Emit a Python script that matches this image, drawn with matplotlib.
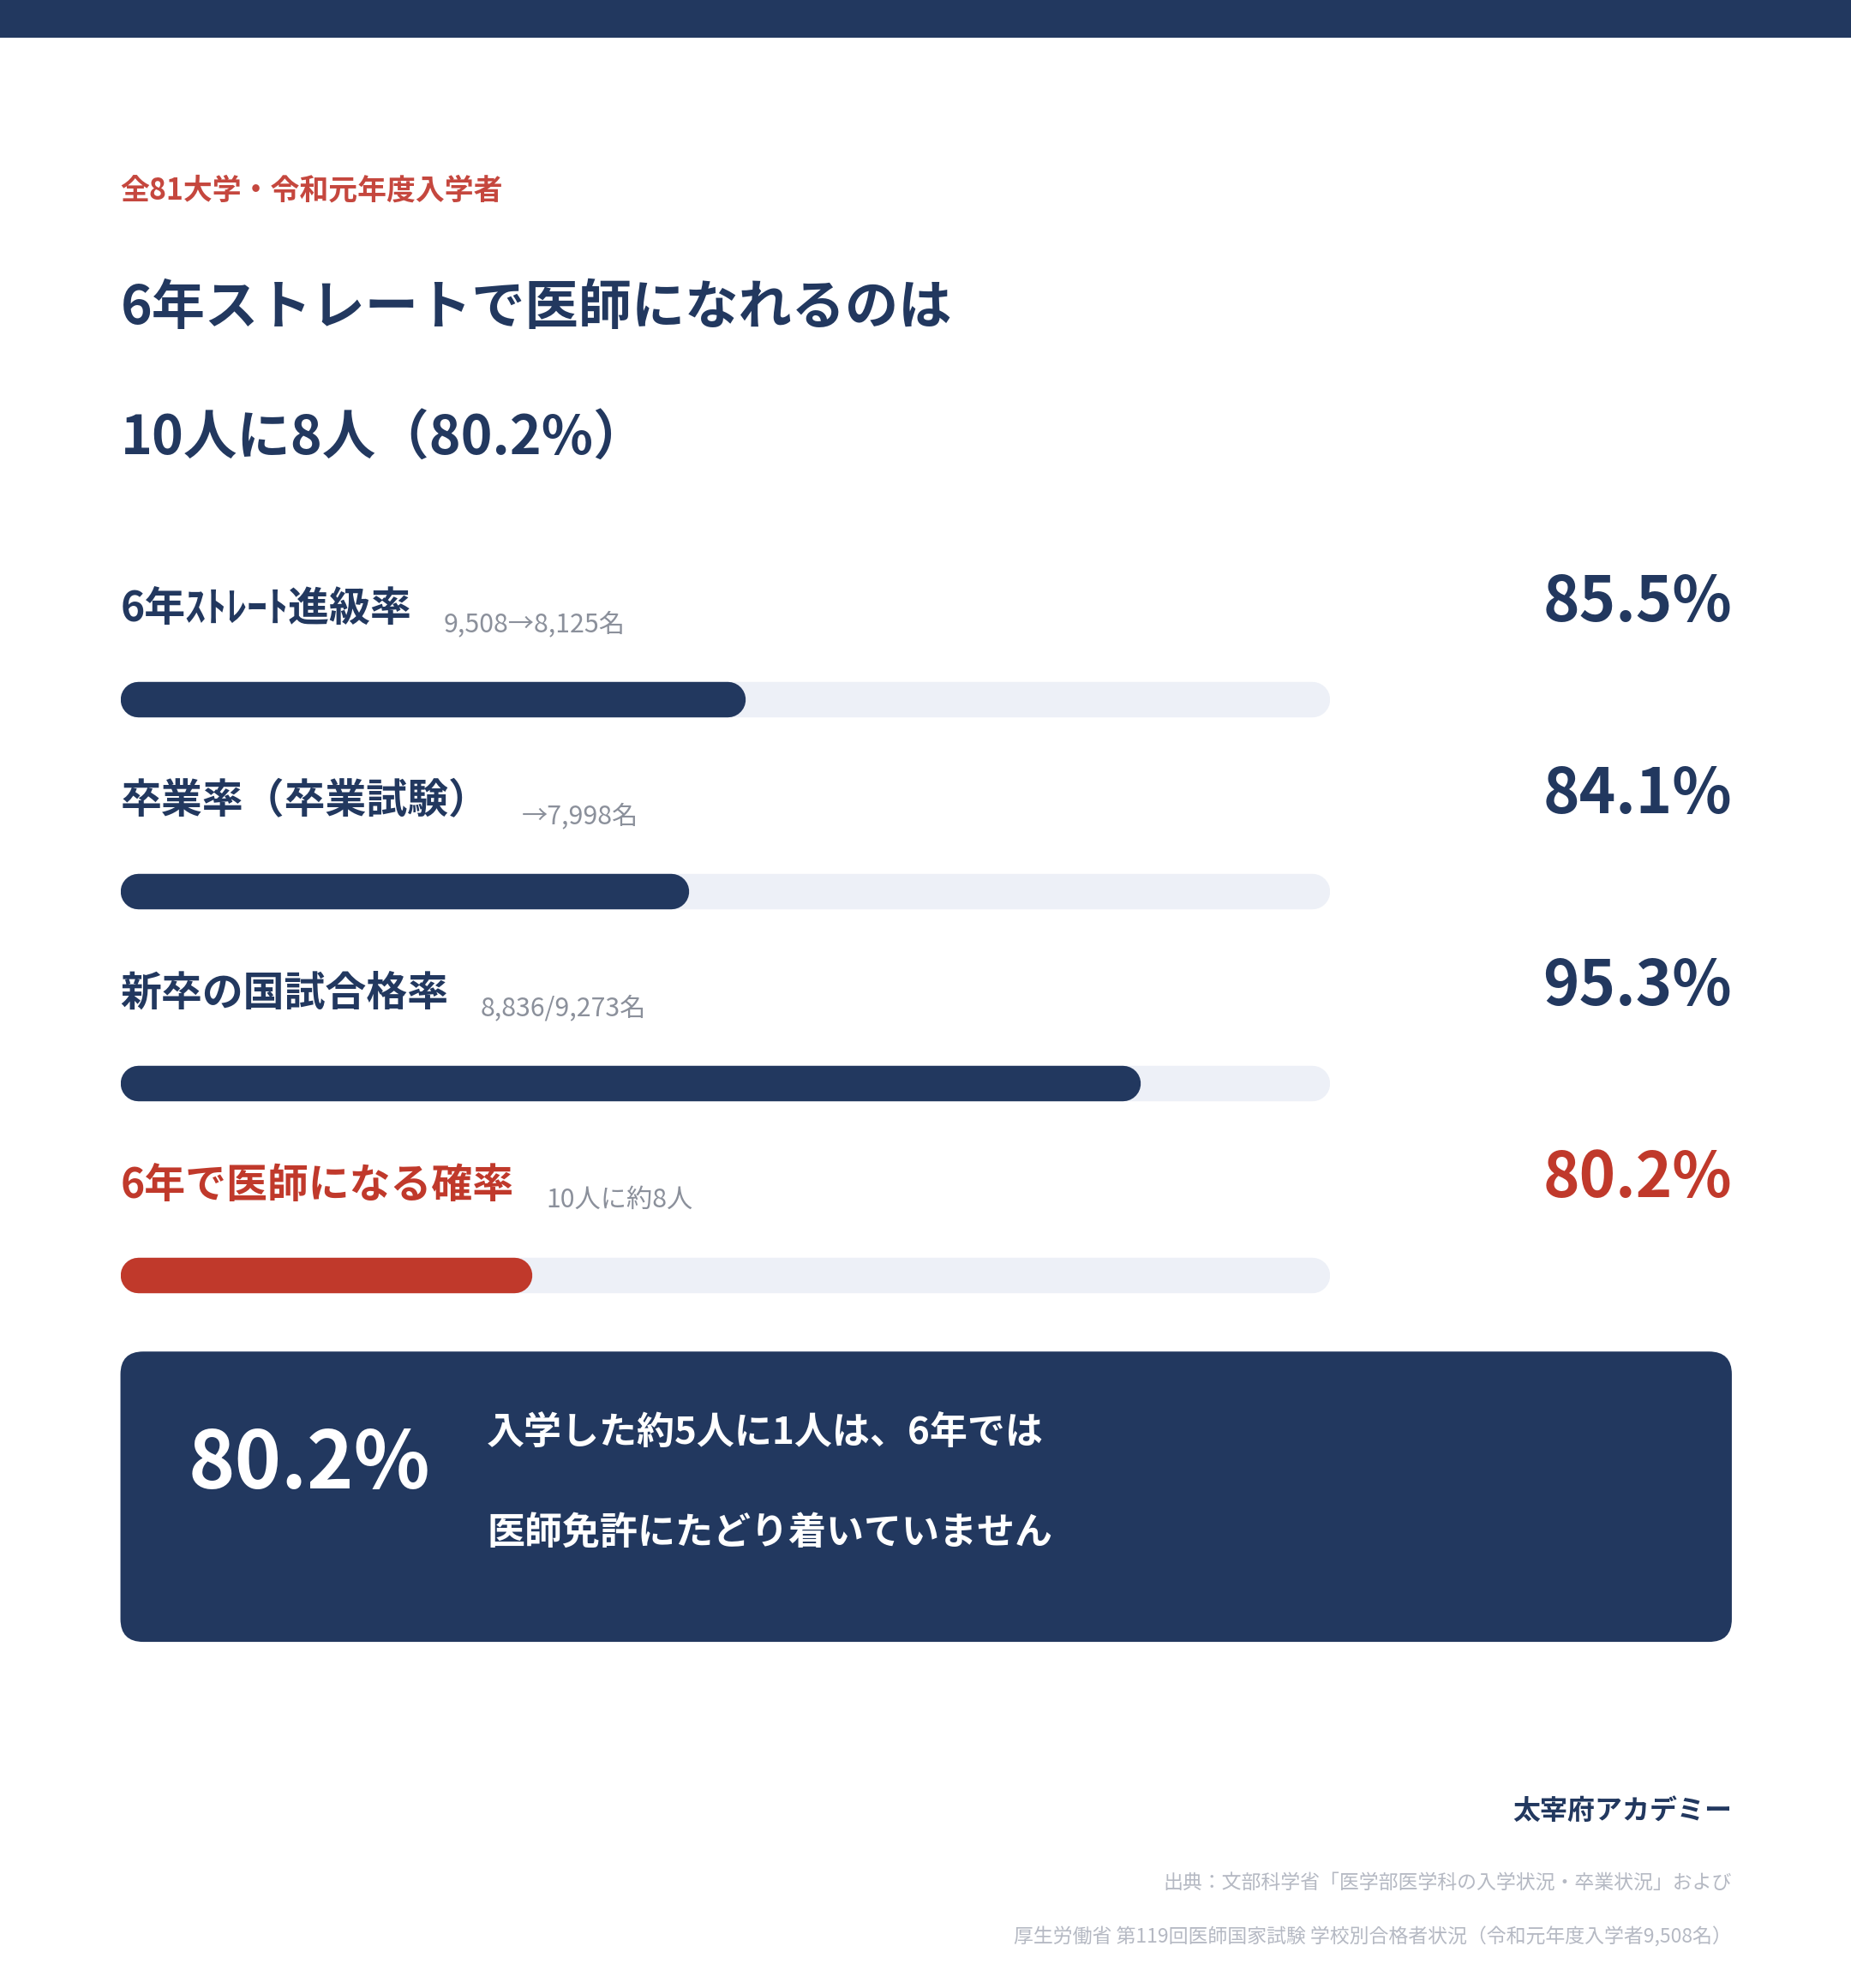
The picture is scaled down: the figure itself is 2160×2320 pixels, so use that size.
import matplotlib.pyplot as plt
from matplotlib.patches import FancyBboxPatch, Rectangle

plt.rcParams['font.family'] = ['Noto Sans CJK JP', 'DejaVu Sans']

# Data
labels = ['6年ｽﾄﾚｰﾄ進級率', '卒業率（卒業試験）', '新卒の国試合格率', '6年で医師になる確率']
notes = ['9,508→8,125名', '→7,998名', '8,836/9,273名', '10人に約8人']
rates = [85.5, 84.1, 95.3, 80.2]
highlight = [False, False, False, True]
axis_min, axis_max = 70, 100

NAVY = '#22385f'
RED = '#c0392b'
RED_SOFT = '#c5473e'
TRACK = '#edf0f7'
GRAY = '#8b909b'
LIGHT_GRAY = '#b5b9c3'

# layout units: the reference drawn at 1460 x 1568
W, H = 1460, 1568
fig = plt.figure(figsize=(21.6, 23.2), dpi=100)
fig.patch.set_facecolor('white')

canvas = fig.add_axes([0, 0, 1, 1])
canvas.set_xlim(0, W)
canvas.set_ylim(H, 0)
canvas.axis('off')

# top band
canvas.add_patch(Rectangle((0, 0), W, 30, color=NAVY, lw=0))

# header
canvas.text(95, 150, '全81大学・令和元年度入学者', color=RED_SOFT, fontsize=24.4,
            fontweight='bold', va='center', ha='left')
canvas.text(95, 243, '6年ストレートで医師になれるのは', color=NAVY, fontsize=44.8,
            fontweight='bold', va='center', ha='left')
canvas.text(95, 346, f'10人に8人（{rates[-1]}%）', color=NAVY, fontsize=45,
            fontweight='bold', va='center', ha='left')

# bar rows
left, right = 95, 1049
row0, row_step = 551.5, 151.5
bar_h = 28
ax = fig.add_axes([left / W, 1 - (row0 + 3.5 * row_step) / H,
                   (right - left) / W, 4 * row_step / H])
ax.set_xlim(axis_min, axis_max)
ax.set_ylim(3.5, -0.5)
ax.axis('off')

lw = bar_h * (2160 / W) * 72 / 100
r = (bar_h / 2) / (right - left) * (axis_max - axis_min)
for i, (lab, note, v, hl) in enumerate(zip(labels, notes, rates, highlight)):
    col = RED if hl else NAVY
    ax.plot([axis_min + r, axis_max - r], [i, i], lw=lw, color=TRACK,
            solid_capstyle='round')
    ax.plot([axis_min + r, v - r], [i, i], lw=lw, color=col,
            solid_capstyle='round')

    y = row0 + row_step * i
    t = canvas.text(95, y - 71, lab, color=col, fontsize=34.5, fontweight='bold',
                    va='center', ha='left')
    canvas.annotate(note, xy=(1, 0), xycoords=t, xytext=(27, -6),
                    textcoords='offset points', color=GRAY, fontsize=21.8,
                    va='bottom', ha='left')
    canvas.text(1366, y - 76, f'{v}%', color=col, fontsize=52,
                fontweight='bold', va='center', ha='right')

# summary box
canvas.add_patch(FancyBboxPatch((95, 1066), 1271, 229,
                                boxstyle='round,pad=0,rounding_size=18',
                                fc=NAVY, ec='none'))
canvas.text(244, 1156, f'{rates[-1]}%', color='white', fontsize=66.5,
            fontweight='bold', va='center', ha='center')
canvas.text(384, 1130, '入学した約5人に1人は、6年では', color='white', fontsize=31.7,
            fontweight='bold', va='center', ha='left')
canvas.text(384, 1209, '医師免許にたどり着いていません', color='white', fontsize=31.7,
            fontweight='bold', va='center', ha='left')

# footer
canvas.text(1366, 1429, '太宰府アカデミー', color=NAVY, fontsize=23,
            fontweight='bold', va='center', ha='right')
canvas.text(1366, 1485, '出典：文部科学省「医学部医学科の入学状況・卒業状況」および',
            color=LIGHT_GRAY, fontsize=16.5, va='center', ha='right')
canvas.text(1366, 1528, '厚生労働省 第119回医師国家試験 学校別合格者状況（令和元年度入学者9,508名）',
            color=LIGHT_GRAY, fontsize=16.5, va='center', ha='right')

fig.savefig('out.png', dpi=100, facecolor='white')
